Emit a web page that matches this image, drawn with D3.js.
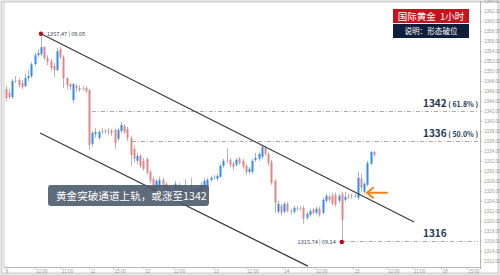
<!DOCTYPE html>
<html>
<head>
<meta charset="utf-8">
<script src="https://cdn.jsdelivr.net/npm/d3@7"></script>
<style>
  html, body { margin: 0; padding: 0; background: #fff; }
  svg { display: block; font-family: "Noto Sans CJK SC", "Noto Sans", sans-serif; }
</style>
</head>
<body>
<svg id="chart" width="500" height="275"></svg>
<script>
// hourly candles, index 0 = first bar on screen
const opens = [1346.4,1345.6,1344.8,1348.0,1348.2,1347.6,1347.0,1348.6,1349.0,1351.4,1353.2,1353.4,1354.8,1352.6,1352.0,1351.0,1350.2,1354.4,1352.8,1348.6,
  1347.4,1344.2,1347.0,1346.6,1346.4,1346.6,1346.2,1335.4,1337.4,1336.6,1337.8,1338.0,1337.8,1338.0,1338.2,1336.4,1338.0,1339.0,1338.4,1336.6,
  1334.4,1332.0,1333.0,1332.0,1332.4,1329.8,1328.4,1326.4,1326.6,1328.2,1327.4,1325.4,1326.6,1325.6,1327.2,1326.4,1324.8,1325.8,1325.0,1326.4,
  1325.0,1326.0,1326.8,1326.6,1328.2,1328.6,1328.4,1328.8,1331.0,1332.0,1332.2,1331.4,1331.2,1332.4,1332.0,1331.0,1329.8,1329.8,1332.2,1332.4,
  1332.8,1334.6,1333.4,1331.8,1328.0,1321.8,1323.0,1321.8,1323.4,1322.0,1321.8,1322.4,1322.6,1322.6,1320.6,1321.2,1322.2,1321.6,1322.4,1321.6,
  1324.0,1324.8,1325.0,1325.2,1324.0,1325.4,1324.2,1324.8,1325.0,1324.8,1324.6,1328.4,1325.8,1327.2,1331.4,1333.8];
const highs = [1347.0,1346.2,1348.4,1349.0,1348.6,1348.2,1349.4,1350.2,1351.8,1353.6,1354.4,1357.47,1355.0,1353.2,1352.4,1351.6,1354.6,1354.8,1353.2,1348.8,
  1347.6,1347.6,1347.4,1347.2,1347.0,1347.0,1346.4,1338.0,1338.6,1338.2,1338.6,1338.4,1338.6,1338.4,1338.4,1338.6,1339.8,1339.4,1338.8,1337.0,
  1335.0,1333.6,1333.4,1332.6,1332.6,1330.2,1328.8,1328.4,1328.8,1328.6,1327.8,1327.2,1327.0,1328.0,1327.6,1326.8,1328.4,1326.6,1328.6,1326.8,
  1327.0,1327.8,1328.6,1328.6,1329.0,1329.2,1329.4,1331.4,1332.4,1334.6,1332.6,1331.8,1332.6,1332.8,1332.4,1331.4,1330.8,1332.4,1333.6,1333.8,
  1335.2,1335.0,1333.8,1332.2,1328.4,1324.0,1323.4,1323.8,1323.8,1322.4,1323.0,1323.0,1323.0,1323.0,1321.8,1322.4,1322.6,1322.8,1322.8,1324.6,
  1325.4,1325.2,1325.6,1325.6,1325.4,1325.8,1325.8,1325.4,1325.4,1325.4,1329.8,1329.4,1327.8,1332.0,1334.0,1334.0];
const lows = [1344.0,1344.4,1344.4,1347.6,1346.8,1346.4,1346.8,1348.0,1348.6,1351.0,1352.8,1353.0,1352.2,1351.2,1350.0,1348.8,1350.0,1352.4,1346.6,1346.4,
  1346.2,1343.6,1345.8,1345.8,1346.0,1345.6,1334.2,1334.8,1336.6,1336.2,1337.4,1337.4,1337.2,1337.0,1334.4,1336.0,1337.6,1337.4,1336.0,1331.0,
  1331.6,1331.4,1330.6,1330.0,1329.2,1327.4,1325.8,1326.0,1326.2,1326.0,1325.0,1325.0,1325.8,1325.2,1325.4,1324.2,1324.4,1325.0,1324.6,1324.8,
  1324.6,1325.6,1326.4,1326.2,1327.8,1328.2,1328.0,1328.6,1330.6,1331.6,1330.8,1330.2,1330.8,1331.2,1330.4,1329.2,1329.4,1329.4,1331.8,1332.0,
  1332.4,1333.0,1331.0,1327.2,1321.6,1321.4,1321.0,1321.4,1321.6,1321.2,1321.4,1322.0,1322.0,1319.4,1320.2,1320.8,1321.2,1321.2,1320.8,1321.2,
  1323.6,1323.8,1323.0,1322.8,1323.6,1315.74,1323.8,1324.4,1324.4,1324.6,1324.2,1325.8,1325.4,1326.8,1331.2,1332.8];
const closes = [1344.6,1344.8,1348.0,1348.2,1347.2,1346.8,1348.6,1349.0,1351.4,1353.2,1353.6,1354.8,1352.6,1351.8,1350.6,1350.2,1354.0,1352.8,1348.6,1347.2,
  1346.8,1347.4,1346.6,1346.2,1346.6,1346.0,1335.2,1337.6,1337.8,1337.8,1338.0,1337.8,1338.0,1337.6,1335.6,1338.2,1339.2,1337.8,1336.6,1333.2,
  1332.4,1333.0,1331.0,1330.4,1329.6,1328.0,1326.4,1328.0,1328.2,1326.8,1325.4,1326.6,1326.4,1327.4,1326.0,1324.8,1326.0,1325.6,1326.6,1325.2,
  1326.4,1327.2,1328.0,1328.2,1328.6,1328.8,1329.0,1331.0,1332.0,1332.2,1331.2,1330.8,1332.2,1331.6,1330.8,1329.8,1330.4,1332.0,1332.6,1333.4,
  1334.8,1333.4,1331.6,1327.6,1323.6,1323.4,1321.6,1323.4,1322.0,1321.8,1322.6,1322.6,1322.4,1320.4,1321.4,1322.0,1321.6,1322.4,1321.2,1324.2,
  1325.0,1324.2,1323.4,1323.2,1325.0,1320.2,1324.8,1325.0,1324.8,1325.0,1328.6,1326.6,1327.4,1331.6,1333.8,1333.2];

// x axis labels (bar index where the label sits)
const xTickIdx = [-0.5, 9, 17, 26, 33.5, 43, 52, 64.5, 75, 86.5, 96.5, 108.5, 119, 127, 136, 144];
const xTickText = ['8', '12:00', '21:00', '11', '15:00', '12', '12:00', '13', '12:00', '14', '12:00', '15', '12:00', '21:00', '18', '15:00'];
const yTicks = d3.range(1312, 1364.1, 2);

// retracement levels
const fibPrices = [1342, 1336, 1316];
const fibPct = ['( 61.8% )', '( 50.0% )', ''];
const fibFrom = [26.9, 39.4, 105];

// channel lines [index, price]
const upperChannel = [[11, 1357.47], [127.6, 1319.75]];
const lowerChannel = [[10.7, 1337.6], [94.4, 1310.9]];

// marked extremes
const extremes = [
  { idx: 11, price: 1357.47, label: '1357.47 | 09.08', side: 'right' },
  { idx: 105, price: 1315.74, label: '1315.74 | 09.14', side: 'left' },
];

const arrowPts = [[119.1, 1325.6], [112.9, 1325.6]];
const titleText = '国际黄金  1小时';
const subText = '说明：形态破位';
const noteText = '黄金突破通道上轨，或涨至1342';

const svg = d3.select('#chart');
const W = 500, H = 275;
const plot = { left: 4, right: 480, top: 2, bottom: 267 };

const x = d3.scaleLinear().domain([-0.5625, 148.19]).range([plot.left, plot.right]);
const y = d3.scaleLinear().domain([1310.72, 1363.85]).range([plot.bottom, plot.top]);

// frame
svg.append('rect')
  .attr('x', 1.5).attr('y', 1.5).attr('width', W - 3).attr('height', H - 3)
  .attr('fill', 'none').attr('stroke', '#d4d4d4').attr('stroke-width', 2);

// axes
const yAxis = svg.append('g')
  .attr('transform', `translate(${plot.right},0)`)
  .call(d3.axisRight(y).tickValues(yTicks).tickSize(2).tickPadding(2).tickFormat(d3.format('.2f')));
const xAxis = svg.append('g')
  .attr('transform', `translate(0,${plot.bottom})`)
  .call(d3.axisBottom(x).tickValues(xTickIdx).tickSize(2).tickPadding(1).tickFormat((d, i) => xTickText[i]));

[yAxis, xAxis].forEach(a => {
  a.select('.domain').attr('stroke', '#b8b8b8');
  a.selectAll('.tick line').attr('stroke', '#b8b8b8');
  a.selectAll('.tick text').attr('fill', '#9a9a9a').style('font-size', '4.6px').style('font-family', 'Arial, "Liberation Sans", sans-serif');
});
xAxis.selectAll('.tick text').attr('text-anchor', 'start').attr('dx', '1');
svg.append('line')
  .attr('x1', plot.left).attr('x2', plot.left).attr('y1', plot.top).attr('y2', plot.bottom)
  .attr('stroke', '#c8c8c8');

// retracement lines
const fib = svg.append('g');
fibPrices.forEach((p, i) => {
  fib.append('line')
    .attr('x1', x(fibFrom[i])).attr('x2', plot.right - 2)
    .attr('y1', Math.round(y(p)) + 0.5).attr('y2', Math.round(y(p)) + 0.5)
    .attr('stroke', '#a8a8a8').attr('stroke-width', 1)
    .attr('stroke-dasharray', '4,2,1,2');
  const t = fib.append('text')
    .attr('x', 423).attr('y', y(p) - 4)
    .attr('fill', '#253753');
  t.append('tspan').text(p).style('font-size', '10px').style('font-weight', '600');
  if (fibPct[i]) {
    t.append('tspan').text(' ' + fibPct[i]).style('font-size', '7px').style('font-weight', '600');
  }
});

// candles
const candles = opens.map((o, i) => ({ i, o, h: highs[i], l: lows[i], c: closes[i] }));
const cg = svg.append('g');
cg.selectAll('line.wick').data(candles).join('line')
  .attr('class', 'wick')
  .attr('x1', d => Math.round(x(d.i)) + 0.5).attr('x2', d => Math.round(x(d.i)) + 0.5)
  .attr('y1', d => y(d.h)).attr('y2', d => y(d.l))
  .attr('stroke', '#b4b4b4').attr('stroke-width', 1);
cg.selectAll('rect.body').data(candles).join('rect')
  .attr('class', 'body')
  .attr('x', d => Math.round(x(d.i)) - 0.5)
  .attr('width', 2)
  .attr('y', d => y(Math.max(d.o, d.c)))
  .attr('height', d => Math.max(1, Math.abs(y(d.o) - y(d.c))))
  .attr('fill', d => Math.abs(d.c - d.o) < 0.3 ? '#aab4c0' : (d.c > d.o ? '#2d8ef0' : '#e38585'));

// channel
const line = d3.line().x(d => x(d[0])).y(d => y(d[1]));
[upperChannel, lowerChannel].forEach(ch => {
  svg.append('path').attr('d', line(ch))
    .attr('fill', 'none').attr('stroke', '#3a3a3a').attr('stroke-width', 1.2);
});

// extremes
extremes.forEach(e => {
  svg.append('circle').attr('cx', x(e.idx)).attr('cy', y(e.price)).attr('r', 2.2).attr('fill', '#b50d12');
  svg.append('text')
    .attr('x', e.side === 'right' ? x(e.idx) + 6 : x(e.idx) - 6)
    .attr('y', y(e.price) + 2)
    .attr('text-anchor', e.side === 'right' ? 'start' : 'end')
    .attr('fill', '#3b4658')
    .style('font-size', '5.6px')
    .text(e.label);
});

// orange arrow
const ax0 = x(arrowPts[0][0]), ay = y(arrowPts[0][1]), ax1 = x(arrowPts[1][0]);
svg.append('path')
  .attr('d', `M${ax0},${ay}L${ax1},${ay}M${ax1 + 6},${ay - 5}L${ax1},${ay}L${ax1 + 6},${ay + 5}`)
  .attr('fill', 'none').attr('stroke', '#f0821e').attr('stroke-width', 2).attr('stroke-linecap', 'round');

// note box
svg.append('rect')
  .attr('x', 48).attr('y', 185).attr('width', 161).attr('height', 21).attr('rx', 3)
  .attr('fill', '#4c5b6c').attr('fill-opacity', 0.9);
svg.append('text')
  .attr('x', 56).attr('y', 199.5)
  .attr('fill', '#fff').style('font-size', '10.6px')
  .text(noteText);

// title badges
svg.append('rect').attr('x', 393).attr('y', 9).attr('width', 76).attr('height', 14).attr('fill', '#c3161c');
svg.append('text').attr('x', 431).attr('y', 19.5).attr('text-anchor', 'middle')
  .attr('fill', '#fff').style('font-size', '9.5px').attr('xml:space', 'preserve').text(titleText);
svg.append('rect').attr('x', 393).attr('y', 24).attr('width', 76).attr('height', 14).attr('fill', '#0f1f3b');
svg.append('text').attr('x', 431).attr('y', 34).attr('text-anchor', 'middle')
  .attr('fill', '#fff').style('font-size', '7.6px').text(subText);
</script>
</body>
</html>
